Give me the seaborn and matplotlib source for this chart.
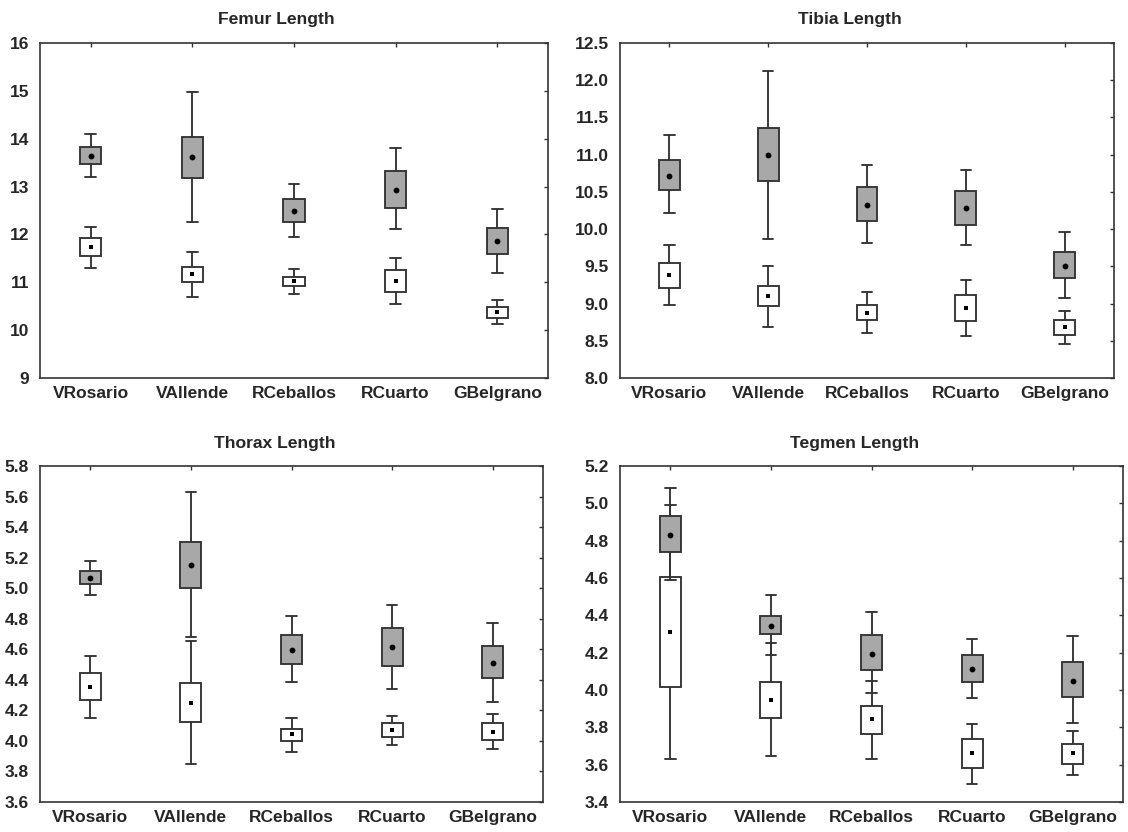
import numpy as np
import pandas as pd
import matplotlib
matplotlib.use('Agg')
import matplotlib.pyplot as plt
import seaborn as sns

# categories
sites = ['VRosario', 'VAllende', 'RCeballos', 'RCuarto', 'GBelgrano']

# per site: [whisker low, box low, mean, box high, whisker high]
femur_grey = [[13.20, 13.47, 13.63, 13.83, 14.10],
              [12.27, 13.18, 13.61, 14.03, 14.98],
              [11.95, 12.26, 12.49, 12.75, 13.06],
              [12.11, 12.56, 12.92, 13.33, 13.80],
              [11.20, 11.59, 11.86, 12.14, 12.54]]
femur_white = [[11.29, 11.54, 11.73, 11.92, 12.16],
               [10.69, 11.01, 11.17, 11.32, 11.64],
               [10.76, 10.93, 11.02, 11.11, 11.27],
               [10.55, 10.80, 11.02, 11.25, 11.50],
               [10.12, 10.26, 10.37, 10.48, 10.64]]

tibia_grey = [[10.21, 10.53, 10.72, 10.93, 11.26],
              [9.87, 10.64, 11.00, 11.36, 12.13],
              [9.81, 10.11, 10.33, 10.56, 10.86],
              [9.78, 10.06, 10.28, 10.51, 10.79],
              [9.08, 9.34, 9.50, 9.69, 9.96]]
tibia_white = [[8.98, 9.21, 9.38, 9.55, 9.78],
               [8.69, 8.97, 9.10, 9.23, 9.51],
               [8.60, 8.78, 8.87, 8.98, 9.16],
               [8.56, 8.76, 8.94, 9.12, 9.32],
               [8.46, 8.58, 8.68, 8.78, 8.90]]

thorax_grey = [[4.958, 5.027, 5.067, 5.110, 5.178],
               [4.679, 5.001, 5.149, 5.300, 5.628],
               [4.383, 4.505, 4.594, 4.692, 4.816],
               [4.342, 4.492, 4.618, 4.742, 4.892],
               [4.257, 4.409, 4.509, 4.620, 4.775]]
thorax_white = [[4.153, 4.270, 4.353, 4.444, 4.557],
                [3.850, 4.126, 4.248, 4.379, 4.651],
                [3.928, 4.000, 4.042, 4.078, 4.150],
                [3.976, 4.024, 4.072, 4.116, 4.166],
                [3.944, 4.007, 4.057, 4.116, 4.179]]

tegmen_grey = [[4.590, 4.740, 4.831, 4.930, 5.082],
               [4.189, 4.300, 4.344, 4.399, 4.508],
               [3.983, 4.106, 4.193, 4.293, 4.416],
               [3.959, 4.045, 4.113, 4.189, 4.275],
               [3.824, 3.961, 4.048, 4.150, 4.291]]
tegmen_white = [[3.631, 4.015, 4.309, 4.606, 4.991],
                [3.644, 3.852, 3.949, 4.045, 4.253],
                [3.631, 3.765, 3.842, 3.913, 4.047],
                [3.499, 3.583, 3.660, 3.735, 3.818],
                [3.542, 3.603, 3.660, 3.710, 3.778]]

sns.set_style('white')
plt.rcParams['font.family'] = ['Liberation Sans', 'DejaVu Sans']
plt.rcParams['font.weight'] = 'bold'

EDGE = '#333333'
GREY = '#a8a8a8'


def to_long(stats):
    rows = []
    for site, vals in zip(sites, stats):
        for v in vals:
            rows.append({'site': site, 'value': v})
    return pd.DataFrame(rows)


def to_means(stats):
    return pd.DataFrame({'site': sites, 'mean': [s[2] for s in stats]})


def draw_panel(ax, title, grey, white, ylim, yticks, fmt, title_pad):
    # white boxes first so the grey ones sit on top where they overlap
    for stats, fill in [(white, 'white'), (grey, GREY)]:
        sns.boxplot(data=to_long(stats), x='site', y='value', order=sites,
                    color=fill, saturation=1, width=0.21, whis=(0, 100),
                    linewidth=1.35, linecolor=EDGE, showfliers=False,
                    medianprops={'visible': False}, ax=ax)
    sns.stripplot(data=to_means(white), x='site', y='mean', order=sites,
                  jitter=False, color='black', marker='s', size=3.0,
                  linewidth=0, ax=ax)
    sns.stripplot(data=to_means(grey), x='site', y='mean', order=sites,
                  jitter=False, color='black', marker='o', size=4.2,
                  linewidth=0, ax=ax)
    ax.set_xlim(-0.5, 4.5)
    ax.set_ylim(*ylim)
    ax.set_yticks(yticks)
    ax.set_yticklabels([fmt.format(t) for t in yticks])
    ax.set_xlabel('')
    ax.set_ylabel('')
    ax.set_title(title, fontsize=12.6, fontweight='bold', pad=title_pad, x=0.466)
    ax.tick_params(axis='both', direction='in', length=3, width=1,
                   color=EDGE, top=True, right=True, labelsize=12.5)
    ax.tick_params(axis='x', pad=6)
    ax.tick_params(axis='y', pad=8)
    for sp in ax.spines.values():
        sp.set_visible(True)
        sp.set_color(EDGE)
        sp.set_linewidth(1.2)


W, H = 1128, 832
fig = plt.figure(figsize=(W / 100, H / 100), dpi=100)
fig.patch.set_facecolor('white')


def box(x0, x1, y0, y1):
    return [x0 / W, (H - y1) / H, (x1 - x0) / W, (y1 - y0) / H]


ax_femur = fig.add_axes(box(40, 548, 43, 378))
ax_tibia = fig.add_axes(box(620, 1114, 43, 378))
ax_thorax = fig.add_axes(box(40, 543, 466, 802))
ax_tegmen = fig.add_axes(box(620, 1123, 466, 802))

draw_panel(ax_femur, 'Femur Length', femur_grey, femur_white,
           (9, 16), np.arange(9, 17, 1), '{:.0f}', 14)
draw_panel(ax_tibia, 'Tibia Length', tibia_grey, tibia_white,
           (8.0, 12.5), np.arange(8.0, 12.51, 0.5), '{:.1f}', 14)
draw_panel(ax_thorax, 'Thorax Length', thorax_grey, thorax_white,
           (3.6, 5.8), np.arange(3.6, 5.81, 0.2), '{:.1f}', 13)
draw_panel(ax_tegmen, 'Tegmen Length', tegmen_grey, tegmen_white,
           (3.4, 5.2), np.arange(3.4, 5.21, 0.2), '{:.1f}', 13)

fig.savefig('out.png', dpi=100, facecolor='white')
